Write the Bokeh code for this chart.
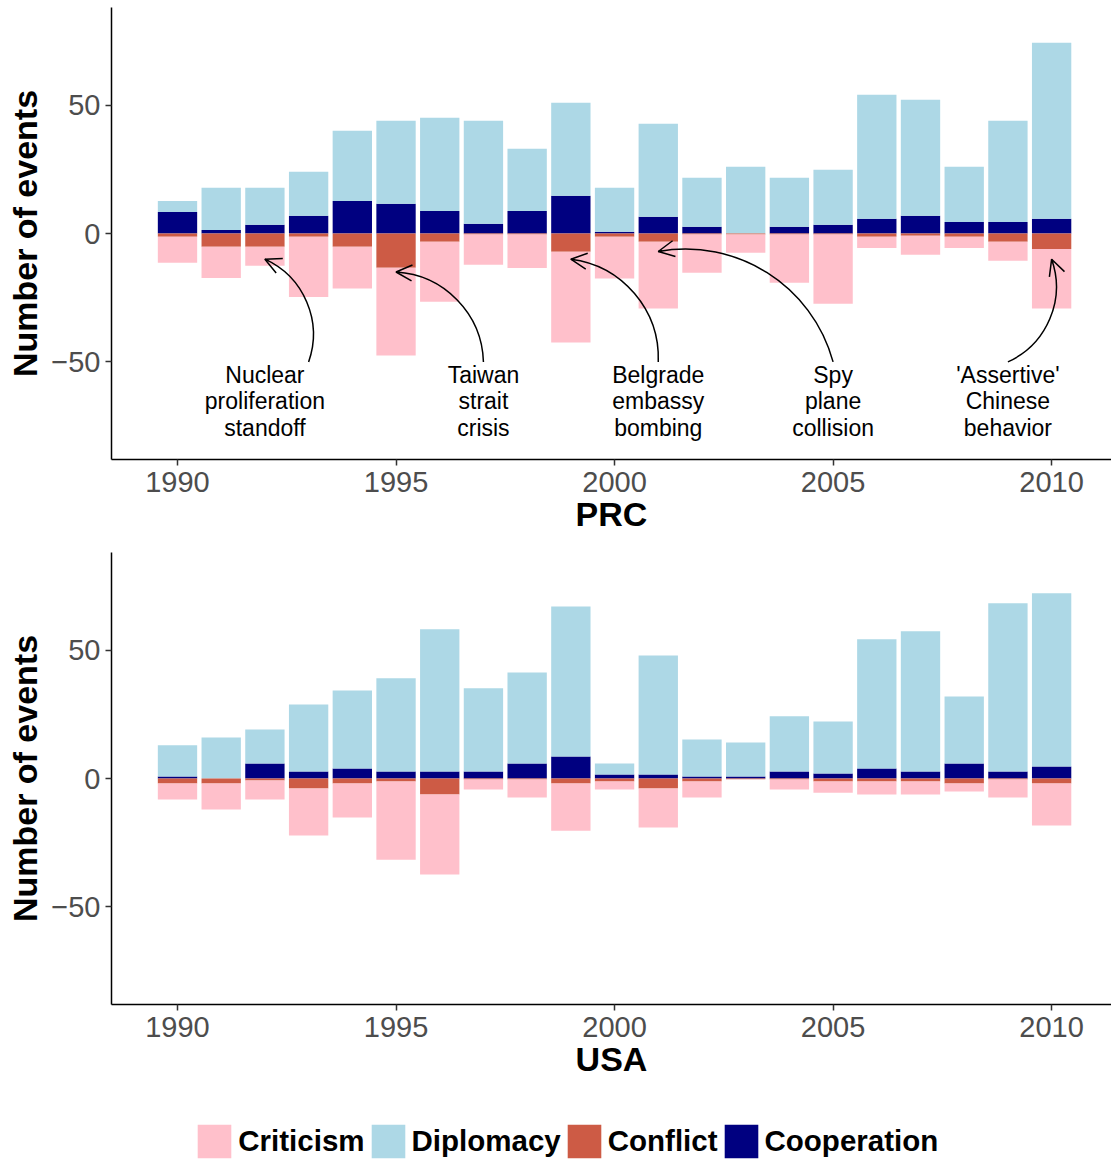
import numpy as np
from bokeh.plotting import figure
from bokeh.models import (ColumnDataSource, Range1d, FixedTicker, Legend,
                          LegendItem, Arrow, OpenHead)
from bokeh.layouts import column
from bokeh.embed import file_html
from bokeh.resources import INLINE
from bokeh.core.properties import value

# ---------------- data ----------------
years = list(range(1990, 2011))

prc_cooperation = [8.4, 1.4, 3.4, 6.9, 12.7, 11.6, 8.8, 3.8, 8.8, 14.7, 0.7,
                   6.5, 2.6, 0.0, 2.6, 3.4, 5.7, 6.9, 4.5, 4.5, 5.7]
prc_diplomacy = [4.3, 16.4, 14.4, 17.1, 27.3, 32.3, 36.3, 40.1, 24.2, 36.2, 17.1,
                 36.2, 19.1, 26.0, 19.1, 21.4, 48.3, 45.2, 21.5, 39.4, 68.6]
prc_conflict = [1.3, 5.2, 5.2, 1.3, 5.2, 13.3, 3.2, 0.4, 0.4, 7.1, 1.3,
                3.2, 0.4, 0.4, 0.4, 0.4, 1.3, 0.9, 1.3, 3.2, 6.0]
prc_criticism = [10.1, 12.1, 7.4, 23.4, 16.2, 34.2, 23.4, 11.8, 13.0, 35.3, 16.2,
                 26.0, 14.9, 7.1, 18.8, 27.0, 4.3, 7.4, 4.3, 7.4, 23.2]

usa_cooperation = [0.8, 0.0, 5.8, 2.7, 3.9, 2.7, 2.7, 2.7, 5.8, 8.6, 1.6,
                   1.6, 0.8, 0.8, 2.7, 1.9, 3.9, 2.7, 5.8, 2.7, 4.7]
usa_diplomacy = [12.1, 16.0, 13.3, 26.1, 30.4, 36.3, 55.4, 32.4, 35.5, 58.4, 4.2,
                 46.3, 14.4, 13.2, 21.5, 20.3, 50.3, 54.6, 26.1, 65.5, 67.4]
usa_conflict = [1.9, 1.9, 0.8, 3.9, 1.9, 1.2, 6.2, 0.4, 0.4, 1.9, 1.2,
                3.9, 1.2, 0.3, 0.4, 1.2, 1.2, 1.2, 1.9, 0.4, 1.9]
usa_criticism = [6.3, 10.2, 7.4, 18.3, 13.3, 30.4, 31.2, 3.9, 7.0, 18.4, 3.1,
                 15.2, 6.2, 0.0, 3.9, 4.3, 5.0, 5.0, 3.2, 7.0, 16.4]

x_ticks = [1990, 1995, 2000, 2005, 2010]
y_ticks = [-50, 0, 50]

categories = ["Criticism", "Diplomacy", "Conflict", "Cooperation"]
colors = {"Criticism": "#FFC0CB", "Diplomacy": "#ADD8E6",
          "Conflict": "#CD5B45", "Cooperation": "#000080"}

# annotations (PRC panel)
ann_text = ["Nuclear\nproliferation\nstandoff", "Taiwan\nstrait\ncrisis",
            "Belgrade\nembassy\nbombing", "Spy\nplane\ncollision",
            "'Assertive'\nChinese\nbehavior"]
ann_x = [1992, 1997, 2001, 2005, 2009]
ann_y = [-65.4] * 5
arr_x0 = [1993, 1997, 2001, 2005, 2009]
arr_y0 = [-50, -50, -50, -50, -50]
arr_x1 = [1992, 1995, 1999, 2001, 2010]
arr_y1 = [-10, -15, -10, -7, -10]

# ---------------- layout constants ----------------
X0, X1 = 1988.49, 2011.37
Y0, Y1 = -88, 88
FW, FH = 1000, 452
LEFT = 111
FONT = "Liberation Sans"
XS = FW / (X1 - X0)
YS = FH / (Y1 - Y0)


def make_panel(name, coop, dip, conf, crit, top_border, bottom_border):
    coop = np.array(coop); dip = np.array(dip)
    conf = np.array(conf); crit = np.array(crit)
    src = ColumnDataSource(dict(
        x=years, coop_top=coop, dip_top=coop + dip,
        conf_bot=-conf, crit_bot=-(conf + crit)))
    p = figure(frame_width=FW, frame_height=FH,
               x_range=Range1d(X0, X1), y_range=Range1d(Y0, Y1),
               output_backend="svg", toolbar_location=None,
               min_border_left=LEFT, min_border_right=0,
               min_border_top=top_border, min_border_bottom=bottom_border)
    w = 0.9
    rs = {}
    rs["Cooperation"] = p.vbar(x="x", width=w, bottom=0, top="coop_top", source=src,
                               fill_color=colors["Cooperation"], line_color=None)
    rs["Diplomacy"] = p.vbar(x="x", width=w, bottom="coop_top", top="dip_top", source=src,
                             fill_color=colors["Diplomacy"], line_color=None)
    rs["Conflict"] = p.vbar(x="x", width=w, bottom="conf_bot", top=0, source=src,
                            fill_color=colors["Conflict"], line_color=None)
    rs["Criticism"] = p.vbar(x="x", width=w, bottom="crit_bot", top="conf_bot", source=src,
                             fill_color=colors["Criticism"], line_color=None)

    p.xgrid.visible = False
    p.ygrid.visible = False
    p.outline_line_color = None
    p.background_fill_color = "white"

    p.xaxis.ticker = FixedTicker(ticks=x_ticks)
    p.yaxis.ticker = FixedTicker(ticks=y_ticks)
    p.yaxis.major_label_overrides = {-50: "\u221250", 0: "0", 50: "50"}
    for ax in (p.xaxis[0], p.yaxis[0]):
        ax.axis_line_color = "black"
        ax.axis_line_width = 1.5
        ax.major_tick_line_color = "#333333"
        ax.major_tick_line_width = 1.5
        ax.major_tick_out = 6
        ax.major_tick_in = 0
        ax.minor_tick_line_color = None
        ax.major_label_text_font = FONT
        ax.major_label_text_font_size = "29px"
        ax.major_label_text_color = "#4D4D4D"
        ax.axis_label_text_font = FONT
        ax.axis_label_text_font_size = "34px"
        ax.axis_label_text_font_style = "bold"
        ax.axis_label_text_color = "black"
    p.xaxis.axis_label = name
    p.yaxis.axis_label = "Number of events"
    p.xaxis.major_label_standoff = 6
    p.xaxis.axis_label_standoff = 0
    p.yaxis.major_label_standoff = 5
    p.yaxis.axis_label_standoff = 4
    return p, rs


p1, _ = make_panel("PRC", prc_cooperation, prc_diplomacy, prc_conflict,
                   prc_criticism, 7, 93)
p2, rs2 = make_panel("USA", usa_cooperation, usa_diplomacy, usa_conflict,
                     usa_criticism, 0, 100)

# annotations on PRC panel
p1.text(x=ann_x, y=ann_y, text=ann_text, text_align="center",
        text_baseline="middle", text_font=value(FONT), text_font_size="23px",
        text_line_height=1.01, text_color="black")

theta = np.radians(85)
bx0, by0, bx1, by1, bcx0, bcy0, bcx1, bcy1 = [], [], [], [], [], [], [], []
for xa, ya, xb, yb in zip(arr_x0, arr_y0, arr_x1, arr_y1):
    sx, sy = xa * XS, ya * YS
    ex, ey = xb * XS, yb * YS
    dx, dy = ex - sx, ey - sy
    L = np.hypot(dx, dy)
    a = np.arctan2(dy, dx)
    r = L / (2 * np.sin(theta / 2))
    h = 4.0 / 3.0 * np.tan(theta / 4) * r
    t1 = a - theta / 2
    t2 = a + theta / 2
    c1x, c1y = sx + h * np.cos(t1), sy + h * np.sin(t1)
    c2x, c2y = ex - h * np.cos(t2), ey - h * np.sin(t2)
    bx0.append(xa); by0.append(ya); bx1.append(xb); by1.append(yb)
    bcx0.append(c1x / XS); bcy0.append(c1y / YS)
    bcx1.append(c2x / XS); bcy1.append(c2y / YS)
    hx, hy = (ex - 4 * np.cos(t2)) / XS, (ey - 4 * np.sin(t2)) / YS
    p1.add_layout(Arrow(x_start=hx, y_start=hy, x_end=xb, y_end=yb,
                        line_color="black", line_width=1.5,
                        end=OpenHead(size=16, line_width=1.5, line_color="black")))

p1.bezier(x0=bx0, y0=by0, x1=bx1, y1=by1, cx0=bcx0, cy0=bcy0, cx1=bcx1, cy1=bcy1,
          line_color="black", line_width=1.5)

# ---------------- legend strip ----------------
p3 = figure(frame_width=FW, frame_height=57, x_range=Range1d(0, 1), y_range=Range1d(0, 1),
            output_backend="svg", toolbar_location=None,
            min_border_left=LEFT, min_border_right=0, min_border_top=0,
            min_border_bottom=0, x_axis_type=None, y_axis_type=None)
p3.xgrid.visible = False
p3.ygrid.visible = False
p3.outline_line_color = None
items = []
for c in categories:
    r = p3.vbar(x=[5], top=[5], bottom=[4], width=0.1,
                fill_color=colors[c], line_color=None)
    items.append(LegendItem(label=c, renderers=[r]))
legend = Legend(items=items, orientation="horizontal", location=(82.3, -0.8),
                glyph_width=42, glyph_height=42, label_standoff=3, spacing=2,
                padding=0, margin=0, border_line_color=None,
                background_fill_alpha=0, label_text_font=FONT,
                label_text_font_size="29.5px", label_text_font_style="bold",
                label_text_color="black", label_height=42)
p3.add_layout(legend, "center")

layout = column(p1, p2, p3, spacing=0)
open("out.html", "w").write(file_html(layout, INLINE))
